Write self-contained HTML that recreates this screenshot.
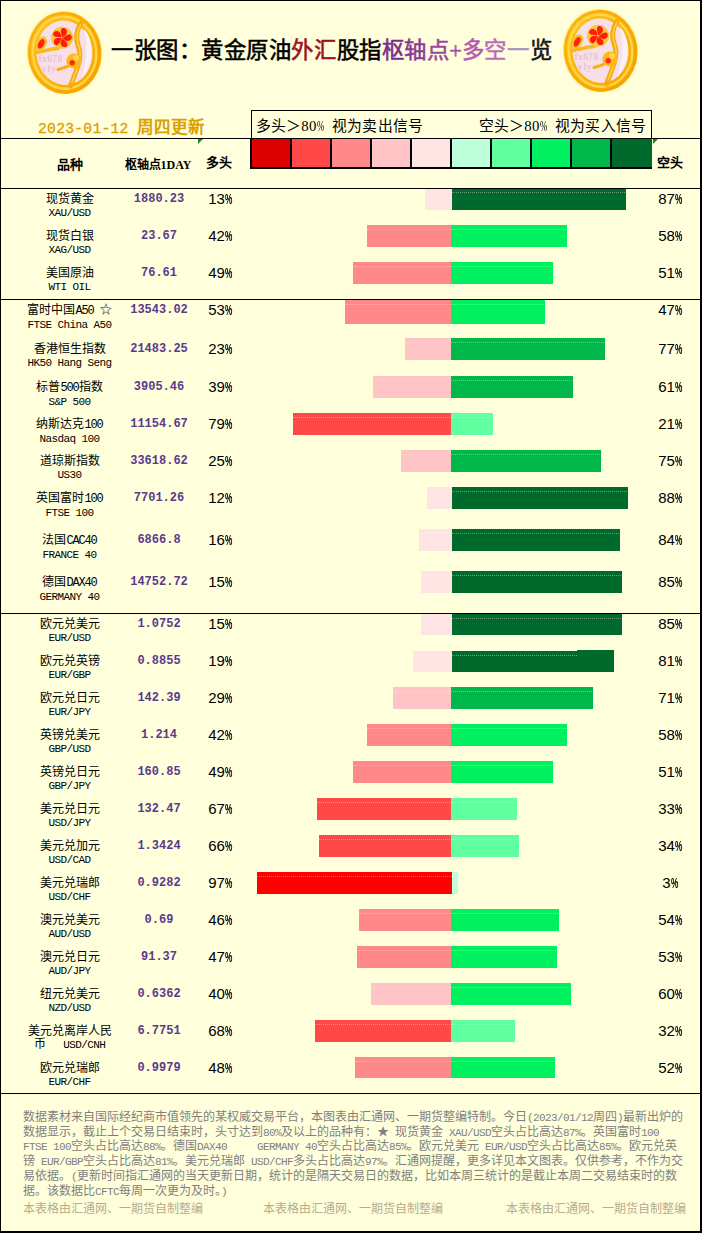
<!DOCTYPE html>
<html lang="zh-CN">
<head>
<meta charset="utf-8">
<title>一张图：黄金原油外汇股指枢轴点+多空一览</title>
<style>
html,body{margin:0;padding:0;}
body{width:702px;height:1233px;position:relative;overflow:hidden;background:#FFFFDC;font-family:"Liberation Serif",serif;color:#000;}
#frame{position:absolute;left:0;top:0;width:699px;height:1230px;border-left:1px solid #000;border-top:1px solid #000;border-right:2px solid #000;border-bottom:2px solid #000;}
.hl{position:absolute;left:0;width:700px;height:1px;background:#000;z-index:3;}
.title{position:absolute;left:111px;top:35px;font-size:22.4px;line-height:32px;font-weight:normal;-webkit-text-stroke:0.55px;white-space:nowrap;letter-spacing:0.55px;}
.title .pl{display:inline-block;width:12.5px;text-align:center;letter-spacing:0;}
.date{position:absolute;left:38px;top:116.5px;font-size:16.5px;line-height:22px;color:#D9A000;font-weight:bold;white-space:nowrap;}
.dn{font-family:"Liberation Mono",monospace;font-size:14.7px;font-weight:normal;-webkit-text-stroke:0.3px;letter-spacing:0.25px;margin-right:4.5px;}
.tri{position:absolute;top:139px;width:0;height:0;border-top:5px solid #1E8A1E;border-right:5px solid transparent;}
.legend{position:absolute;left:251px;top:110px;width:401px;height:28px;border:1px solid #000;border-bottom:none;box-sizing:border-box;font-size:14.8px;line-height:28px;white-space:nowrap;letter-spacing:0.25px;}
.legend .pc{width:7.4px;transform:scaleX(0.6);font-weight:normal;}
.legend span{position:absolute;top:0.8px;}
.boxes{position:absolute;left:250px;top:138px;width:402px;height:31px;background:#000;}
.boxes i{position:absolute;top:1px;height:28px;width:38px;display:block;}
.hd{position:absolute;top:153px;font-size:13px;line-height:20px;font-weight:bold;white-space:nowrap;text-align:center;}
.r{position:absolute;left:0;width:702px;height:37px;}
.n{position:absolute;left:0;top:3.7px;width:139px;text-align:center;font-size:12px;line-height:15px;white-space:nowrap;}
.e{font-family:"Liberation Mono",monospace;font-size:11px;letter-spacing:-0.6px;position:relative;top:-1.7px;}
.c{font-family:"Liberation Serif",serif;font-size:12px;}
.p{position:absolute;left:109px;top:3.1px;width:100px;text-align:center;font-size:12px;line-height:16px;font-weight:bold;color:#5B3A8C;font-family:"Liberation Mono",monospace;}
.l,.s{position:absolute;top:1.7px;width:60px;text-align:center;font-size:15px;line-height:18px;font-family:"Liberation Sans",sans-serif;white-space:nowrap;}
.pc{font-weight:bold;display:inline-block;width:7px;transform:scaleX(0.55);transform-origin:0 50%;}
.l{left:190px;}
.s{left:640px;}
.b{position:absolute;top:0;height:22px;}
.b::after{content:"";position:absolute;left:0;right:0;top:4px;height:1px;background:repeating-linear-gradient(90deg,rgba(255,255,255,.38) 0 1px,transparent 1px 2px);}
.foot{position:absolute;left:23px;top:1109.7px;width:670px;font-size:12px;line-height:14.85px;color:#7F7F7F;white-space:nowrap;}
.fl{height:14.85px;}
.foot span{font-family:"Liberation Mono",monospace;font-size:11px;letter-spacing:-0.6px;}
.m{font-family:"Liberation Mono",monospace;font-size:12px;letter-spacing:-1.2px;}
.wm{position:absolute;top:1202px;font-size:12px;line-height:15px;color:#B8AC8C;white-space:nowrap;}
</style>
</head>
<body>
<div id="frame"></div>
<svg width="0" height="0" style="position:absolute">
<defs>
<radialGradient id="gl" cx="50%" cy="50%" r="50%"><stop offset="0.8" stop-color="#FFE060" stop-opacity="0.9"/><stop offset="1" stop-color="#FFF4A0" stop-opacity="0"/></radialGradient>
<linearGradient id="gd" x1="0" y1="0" x2="1" y2="1"><stop offset="0" stop-color="#FFC826"/><stop offset="0.45" stop-color="#FBB40C"/><stop offset="1" stop-color="#F7A600"/></linearGradient>
<filter id="bl" x="-10%" y="-10%" width="120%" height="120%"><feGaussianBlur stdDeviation="0.6"/></filter>
<symbol id="medal" viewBox="0 0 100 100">
<g filter="url(#bl)">
<ellipse cx="49.5" cy="47.7" rx="40" ry="44.5" fill="url(#gl)" transform="rotate(-6 49.5 47.7)"/>
<ellipse cx="49.5" cy="47.7" rx="37" ry="41.3" fill="url(#gd)" transform="rotate(-6 49.5 47.7)"/>
<ellipse cx="49.5" cy="47.7" rx="35" ry="39.3" fill="none" stroke="#F29A00" stroke-width="1.4" opacity="0.55" transform="rotate(-6 49.5 47.7)"/>
<ellipse cx="49.5" cy="47.7" rx="31.8" ry="36" fill="none" stroke="#FFD64A" stroke-width="2.4" transform="rotate(-6 49.5 47.7)"/>
<ellipse cx="49.5" cy="47.7" rx="28" ry="32.3" fill="#F7DEE7" transform="rotate(-6 49.5 47.7)"/>
<path d="M69 24 C79 34 80 56 66 75 C72 56 73 38 69 24Z" fill="#FCF0F5"/>
<text x="23.5" y="57" font-family="Liberation Serif,serif" font-weight="bold" font-size="9.5" fill="#E2C4D8" letter-spacing="0.4">fx678</text>
<text x="27" y="66.5" font-family="Liberation Serif,serif" font-weight="bold" font-size="9.5" fill="#E2C4D8" letter-spacing="0.8">yly</text>
<path d="M21 47.5 C27 47 33 44 43 43.5" stroke="#F9B81C" stroke-width="3.6" fill="none" stroke-linecap="round"/>
<path d="M66 18 C61 26 60.5 34 63.5 42 C67.5 52 62 64 55.5 81" stroke="#F6AC0C" stroke-width="5" fill="none" stroke-linecap="round"/>
<path d="M65.5 20 C61.5 27 61 34 64 42 C67.5 51 63 62 57 77" stroke="#FFD650" stroke-width="1.3" fill="none" stroke-linecap="round"/>
<path d="M43 64.5 C47 63.5 51 62.5 55 60" stroke="#F8B010" stroke-width="3" fill="none" stroke-linecap="round"/>
<circle cx="59" cy="56" r="7.6" fill="#FBB818"/>
<circle cx="61" cy="53" r="3" fill="#FFD450"/>
<circle cx="57.2" cy="57.8" r="2.7" fill="#FF2A10"/>
<ellipse cx="26.4" cy="38.5" rx="5" ry="7.6" fill="#FBC02A" transform="rotate(28 26.4 38.5)"/>
<ellipse cx="26.2" cy="38.8" rx="2.8" ry="5.2" fill="#FF2408" transform="rotate(28 26.2 38.8)"/>
<circle cx="47" cy="32.8" r="11" fill="#FCC63A"/>
<g fill="#FF1E08" transform="translate(47 32.8)"><path d="M0,-0.6 C-1.2,-4 -3.4,-6.6 -1.6,-9.3 C1.2,-10.9 4.2,-8.6 3.9,-5.2 C3.6,-2.8 1.6,-1.6 0,-0.6 Z" transform="rotate(10)"/><path d="M0,-0.6 C-1.2,-4 -3.4,-6.6 -1.6,-9.3 C1.2,-10.9 4.2,-8.6 3.9,-5.2 C3.6,-2.8 1.6,-1.6 0,-0.6 Z" transform="rotate(82)"/><path d="M0,-0.6 C-1.2,-4 -3.4,-6.6 -1.6,-9.3 C1.2,-10.9 4.2,-8.6 3.9,-5.2 C3.6,-2.8 1.6,-1.6 0,-0.6 Z" transform="rotate(154)"/><path d="M0,-0.6 C-1.2,-4 -3.4,-6.6 -1.6,-9.3 C1.2,-10.9 4.2,-8.6 3.9,-5.2 C3.6,-2.8 1.6,-1.6 0,-0.6 Z" transform="rotate(226)"/><path d="M0,-0.6 C-1.2,-4 -3.4,-6.6 -1.6,-9.3 C1.2,-10.9 4.2,-8.6 3.9,-5.2 C3.6,-2.8 1.6,-1.6 0,-0.6 Z" transform="rotate(298)"/></g>
</g>
</symbol>
</defs>
</svg>
<svg style="position:absolute;left:15px;top:5px" width="100" height="100"><use href="#medal"/></svg>
<svg style="position:absolute;left:550.5px;top:3.3px" width="100" height="100"><use href="#medal"/></svg>
<div class="title">一张图：黄金原油<span style="color:#A01020">外汇</span>股指<span style="color:#7A2C8C">枢</span><span style="color:#8A3896">轴</span><span style="color:#9A469E">点</span><span class="pl" style="color:#A64EA6">+</span><span style="color:#B25AB0">多</span><span style="color:#BE6CBA">空</span><span style="color:#A890C4">一</span><span style="color:#1A1420">览</span></div>
<div class="date"><span class="dn">2023-01-12</span> 周四更新</div><i class="tri" style="left:198px"></i><i class="tri" style="left:653px"></i>
<div class="legend"><span style="left:3.5px">多头＞80<b class="pc">%</b>&nbsp; 视为卖出信号</span><span style="left:226.5px">空头＞80<b class="pc">%</b>&nbsp; 视为买入信号</span></div>
<div class="hl" style="top:138px"></div>
<div class="boxes">
<i style="left:2px;background:#DD0000"></i><i style="left:42px;background:#FF4848"></i><i style="left:82px;background:#FF8888"></i><i style="left:122px;background:#FFC4C6"></i><i style="left:162px;background:#FFE4E4"></i><i style="left:202px;background:#BCFFD8"></i><i style="left:242px;background:#60FFA0"></i><i style="left:282px;background:#00F060"></i><i style="left:322px;background:#00B84A"></i><i style="left:362px;width:40px;background:#00692C"></i>
</div>
<div class="hd" style="left:39.5px;width:60px;top:155px">品种</div>
<div class="hd" style="left:118px;width:80px;top:155px"><span style="font-size:12px">枢轴点1DAY</span></div>
<div class="hd" style="left:189px;width:60px;top:152.5px">多头</div>
<div class="hd" style="left:640px;width:60px;top:152.5px">空头</div>
<div class="hl" style="top:188px"></div>
<div class="hl" style="top:299px"></div>
<div class="hl" style="top:613px"></div>
<div class="hl" style="top:1093px"></div>
<div class="r" style="top:188px"><div class="n">现货黄金<br><span class="e">XAU/USD</span></div><div class="p">1880.23</div><div class="l">13<b class="pc">%</b></div><div class="b" style="left:425px;width:27px;height:22px;background:#FFE4E4"></div><div class="b" style="left:452px;width:174px;height:22px;background:#00692C"></div><div class="s">87<b class="pc">%</b></div></div>
<div class="r" style="top:225px"><div class="n">现货白银<br><span class="e">XAG/USD</span></div><div class="p">23.67</div><div class="l">42<b class="pc">%</b></div><div class="b" style="left:367px;width:84px;height:22px;background:#FF8888"></div><div class="b" style="left:451px;width:116px;height:22px;background:#00F060"></div><div class="s">58<b class="pc">%</b></div></div>
<div class="r" style="top:262px"><div class="n">美国原油<br><span class="e">WTI OIL</span></div><div class="p">76.61</div><div class="l">49<b class="pc">%</b></div><div class="b" style="left:353px;width:98px;height:22px;background:#FF8888"></div><div class="b" style="left:451px;width:102px;height:22px;background:#00F060"></div><div class="s">51<b class="pc">%</b></div></div>
<div class="r" style="top:299px"><div class="n">富时中国<span class="m">A50&nbsp;</span>☆<br><span class="e">FTSE China A50</span></div><div class="p">13543.02</div><div class="l">53<b class="pc">%</b></div><div class="b" style="top:1px;left:345px;width:106px;height:24px;background:#FF8888"></div><div class="b" style="top:1px;left:451px;width:94px;height:24px;background:#00F060"></div><div class="s">47<b class="pc">%</b></div></div>
<div class="r" style="top:338px"><div class="n">香港恒生指数<br><span class="e">HK50 Hang Seng</span></div><div class="p">21483.25</div><div class="l">23<b class="pc">%</b></div><div class="b" style="left:405px;width:46px;height:22px;background:#FFC4C6"></div><div class="b" style="left:451px;width:154px;height:22px;background:#00B84A"></div><div class="s">77<b class="pc">%</b></div></div>
<div class="r" style="top:376px"><div class="n">标普<span class="m">500</span>指数<br><span class="e">S&amp;P 500</span></div><div class="p">3905.46</div><div class="l">39<b class="pc">%</b></div><div class="b" style="left:373px;width:78px;height:22px;background:#FFC4C6"></div><div class="b" style="left:451px;width:122px;height:22px;background:#00B84A"></div><div class="s">61<b class="pc">%</b></div></div>
<div class="r" style="top:413px"><div class="n">纳斯达克<span class="m">100</span><br><span class="e">Nasdaq 100</span></div><div class="p">11154.67</div><div class="l">79<b class="pc">%</b></div><div class="b" style="left:293px;width:158px;height:22px;background:#FF4848"></div><div class="b" style="left:451px;width:42px;height:22px;background:#60FFA0"></div><div class="s">21<b class="pc">%</b></div></div>
<div class="r" style="top:450px"><div class="n">道琼斯指数<br><span class="e">US30</span></div><div class="p">33618.62</div><div class="l">25<b class="pc">%</b></div><div class="b" style="left:401px;width:50px;height:22px;background:#FFC4C6"></div><div class="b" style="left:451px;width:150px;height:22px;background:#00B84A"></div><div class="s">75<b class="pc">%</b></div></div>
<div class="r" style="top:487px"><div class="n">英国富时<span class="m">100</span><br><span class="e">FTSE 100</span></div><div class="p">7701.26</div><div class="l">12<b class="pc">%</b></div><div class="b" style="left:427px;width:25px;height:22px;background:#FFE4E4"></div><div class="b" style="left:452px;width:176px;height:22px;background:#00692C"></div><div class="s">88<b class="pc">%</b></div></div>
<div class="r" style="top:529px"><div class="n">法国<span class="m">CAC40</span><br><span class="e">FRANCE 40</span></div><div class="p">6866.8</div><div class="l">16<b class="pc">%</b></div><div class="b" style="left:419px;width:33px;height:22px;background:#FFE4E4"></div><div class="b" style="left:452px;width:168px;height:22px;background:#00692C"></div><div class="s">84<b class="pc">%</b></div></div>
<div class="r" style="top:571px"><div class="n">德国<span class="m">DAX40</span><br><span class="e">GERMANY 40</span></div><div class="p">14752.72</div><div class="l">15<b class="pc">%</b></div><div class="b" style="left:421px;width:31px;height:22px;background:#FFE4E4"></div><div class="b" style="left:452px;width:170px;height:22px;background:#00692C"></div><div class="s">85<b class="pc">%</b></div></div>
<div class="r" style="top:613px"><div class="n">欧元兑美元<br><span class="e">EUR/USD</span></div><div class="p">1.0752</div><div class="l">15<b class="pc">%</b></div><div class="b" style="top:1px;left:421px;width:31px;height:21px;background:#FFE4E4"></div><div class="b" style="top:1px;left:452px;width:170px;height:21px;background:#00692C"></div><div class="s">85<b class="pc">%</b></div></div>
<div class="r" style="top:650.0px"><div class="n">欧元兑英镑<br><span class="e">EUR/GBP</span></div><div class="p">0.8855</div><div class="l">19<b class="pc">%</b></div><div class="b" style="top:0.5px;left:413px;width:39px;height:21px;background:#FFE4E4"></div><div class="b" style="top:0.5px;left:452px;width:162px;height:21px;background:#00692C"></div><div class="s">81<b class="pc">%</b></div></div>
<div class="r" style="top:687px"><div class="n">欧元兑日元<br><span class="e">EUR/JPY</span></div><div class="p">142.39</div><div class="l">29<b class="pc">%</b></div><div class="b" style="left:393px;width:58px;height:22px;background:#FFC4C6"></div><div class="b" style="left:451px;width:142px;height:22px;background:#00B84A"></div><div class="s">71<b class="pc">%</b></div></div>
<div class="r" style="top:724px"><div class="n">英镑兑美元<br><span class="e">GBP/USD</span></div><div class="p">1.214</div><div class="l">42<b class="pc">%</b></div><div class="b" style="left:367px;width:84px;height:22px;background:#FF8888"></div><div class="b" style="left:451px;width:116px;height:22px;background:#00F060"></div><div class="s">58<b class="pc">%</b></div></div>
<div class="r" style="top:761px"><div class="n">英镑兑日元<br><span class="e">GBP/JPY</span></div><div class="p">160.85</div><div class="l">49<b class="pc">%</b></div><div class="b" style="left:353px;width:98px;height:22px;background:#FF8888"></div><div class="b" style="left:451px;width:102px;height:22px;background:#00F060"></div><div class="s">51<b class="pc">%</b></div></div>
<div class="r" style="top:798px"><div class="n">美元兑日元<br><span class="e">USD/JPY</span></div><div class="p">132.47</div><div class="l">67<b class="pc">%</b></div><div class="b" style="left:317px;width:134px;height:22px;background:#FF4848"></div><div class="b" style="left:451px;width:66px;height:22px;background:#60FFA0"></div><div class="s">33<b class="pc">%</b></div></div>
<div class="r" style="top:835px"><div class="n">美元兑加元<br><span class="e">USD/CAD</span></div><div class="p">1.3424</div><div class="l">66<b class="pc">%</b></div><div class="b" style="left:319px;width:132px;height:22px;background:#FF4848"></div><div class="b" style="left:451px;width:68px;height:22px;background:#60FFA0"></div><div class="s">34<b class="pc">%</b></div></div>
<div class="r" style="top:872px"><div class="n">美元兑瑞郎<br><span class="e">USD/CHF</span></div><div class="p">0.9282</div><div class="l">97<b class="pc">%</b></div><div class="b" style="left:257px;width:195px;height:22px;background:#FF0000"></div><div class="b" style="left:452px;width:6px;height:22px;background:#BCFFD8"></div><div class="s">3<b class="pc">%</b></div></div>
<div class="r" style="top:909px"><div class="n">澳元兑美元<br><span class="e">AUD/USD</span></div><div class="p">0.69</div><div class="l">46<b class="pc">%</b></div><div class="b" style="left:359px;width:92px;height:22px;background:#FF8888"></div><div class="b" style="left:451px;width:108px;height:22px;background:#00F060"></div><div class="s">54<b class="pc">%</b></div></div>
<div class="r" style="top:946px"><div class="n">澳元兑日元<br><span class="e">AUD/JPY</span></div><div class="p">91.37</div><div class="l">47<b class="pc">%</b></div><div class="b" style="left:357px;width:94px;height:22px;background:#FF8888"></div><div class="b" style="left:451px;width:106px;height:22px;background:#00F060"></div><div class="s">53<b class="pc">%</b></div></div>
<div class="r" style="top:983px"><div class="n">纽元兑美元<br><span class="e">NZD/USD</span></div><div class="p">0.6362</div><div class="l">40<b class="pc">%</b></div><div class="b" style="left:371px;width:80px;height:22px;background:#FFC4C6"></div><div class="b" style="left:451px;width:120px;height:22px;background:#00F060"></div><div class="s">60<b class="pc">%</b></div></div>
<div class="r" style="top:1020px"><div class="n">美元兑离岸人民<br><span class="e"><span class="c">币</span>&nbsp;&nbsp;&nbsp;USD/CNH</span></div><div class="p">6.7751</div><div class="l">68<b class="pc">%</b></div><div class="b" style="left:315px;width:136px;height:22px;background:#FF4848"></div><div class="b" style="left:451px;width:64px;height:22px;background:#60FFA0"></div><div class="s">32<b class="pc">%</b></div></div>
<div class="r" style="top:1057px"><div class="n">欧元兑瑞郎<br><span class="e">EUR/CHF</span></div><div class="p">0.9979</div><div class="l">48<b class="pc">%</b></div><div class="b" style="left:355px;width:96px;height:21px;background:#FF8888"></div><div class="b" style="left:451px;width:104px;height:21px;background:#00F060"></div><div class="s">52<b class="pc">%</b></div></div>
<div style="position:absolute;left:577px;top:649.5px;width:37px;height:22.5px;background:#00692C"></div>
<div class="foot"><div class="fl">数据素材来自国际经纪商市值领先的某权威交易平台，本图表由汇通网、一期货整编特制。今日<span>(2023/01/12</span>周四<span>)</span>最新出炉的</div>
<div class="fl">数据显示，截止上个交易日结束时，头寸达到<span>80%</span>及以上的品种有：★<span>&nbsp;</span>现货黄金<span>&nbsp;XAU/USD</span>空头占比高达<span>87%</span>。英国富时<span>100</span></div>
<div class="fl"><span>FTSE&nbsp;100</span>空头占比高达<span>88%</span>。德国<span>DAX40&nbsp;&nbsp;&nbsp;&nbsp;&nbsp;GERMANY&nbsp;40</span>空头占比高达<span>85%</span>。欧元兑美元<span>&nbsp;EUR/USD</span>空头占比高达<span>85%</span>。欧元兑英</div>
<div class="fl">镑<span>&nbsp;EUR/GBP</span>空头占比高达<span>81%</span>。美元兑瑞郎<span>&nbsp;USD/CHF</span>多头占比高达<span>97%</span>。汇通网提醒，更多详见本文图表。仅供参考，不作为交</div>
<div class="fl">易依据。<span>(</span>更新时间指汇通网的当天更新日期，统计的是隔天交易日的数据，比如本周三统计的是截止本周二交易结束时的数</div>
<div class="fl">据。该数据比<span>CFTC</span>每周一次更为及时。<span>)</span></div></div>
<div class="wm" style="left:23px">本表格由汇通网、一期货自制整编</div>
<div class="wm" style="left:262.5px">本表格由汇通网、一期货自制整编</div>
<div class="wm" style="left:506px">本表格由汇通网、一期货自制整编</div>
</body>
</html>
